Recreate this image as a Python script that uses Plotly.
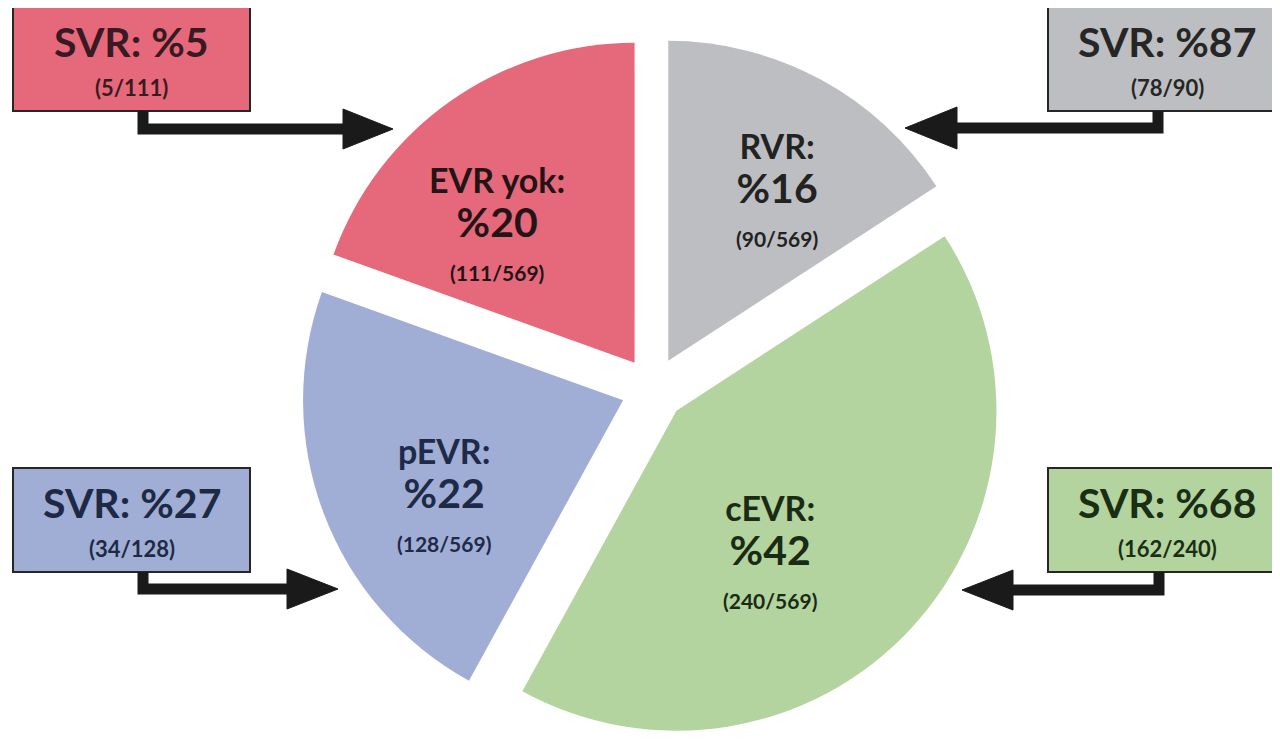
import math
import plotly.graph_objects as go

# ---------------- data ----------------
labels = ["RVR", "cEVR", "pEVR", "EVR yok"]
values = [90, 240, 128, 111]
svr_num = [78, 162, 34, 5]
svr_den = [90, 240, 128, 111]

# ---------------- style ----------------
slice_colors = ["#BDBEC1", "#B3D39F", "#A0AED6", "#E5697B"]
label_colors = ["#222222", "#1A2B14", "#1E2A48", "#241416"]
box_text_colors = ["#262626", "#1A2E14", "#1E2A45", "#3A1A22"]
label_rfrac = [0.738, 0.622, 0.731, 0.714]
label_shift = [3.2, 11.1, -5.7, -8.1]
# boxes in screen pixel space: (x0, y0, x1, y1)
boxes = [(1048, 7, 1300, 111), (1048, 468, 1300, 572), (13, 468, 250, 572), (13, 7, 250, 111)]
# arrows: (elbow x, start y, horizontal y, head base x, tip x, head half height)
arrows = [(1158, 111, 128, 957, 905, 21), (1159, 572, 590, 1013, 962, 20),
          (143, 572, 589, 287, 338, 20), (143, 111, 129, 343, 393, 20)]

OFF = 8                      # default page body margin
W, H = 1280 - 2 * OFF, 749 - 2 * OFF
FONT = "Lato"
pull = 0.10
R_PIE = 320                  # desired radius (screen px)
CX, CY = 653, 389            # desired pie centre (screen px)

half = R_PIE * (1 + pull)
cxf, cyf = CX - OFF, CY - OFF
dom_x = [(cxf - half) / W, (cxf + half) / W]
dom_y = [max(0.0, 1 - (cyf + half) / H), min(1.0, 1 - (cyf - half) / H)]

total = sum(values)
pct = [int(v / total * 100 + 0.5) for v in values]
svr_pct = [int(n / d * 100 + 0.5) for n, d in zip(svr_num, svr_den)]

fig = go.Figure()
fig.add_trace(go.Pie(
    labels=labels, values=values, sort=False, direction="clockwise", rotation=0,
    pull=[pull] * len(values), textinfo="none", hoverinfo="label+value+percent",
    marker=dict(colors=slice_colors, line=dict(width=0)),
    domain=dict(x=dom_x, y=dom_y), showlegend=False,
))

# pie geometry as plotly scales it (converted to screen px)
bw = W * (dom_x[1] - dom_x[0])
bh = H * (dom_y[1] - dom_y[0])
r = min(bw, bh) / (2 + 2 * pull)
cx = W * (dom_x[0] + dom_x[1]) / 2 + OFF
cy = H * (1 - dom_y[0]) - bh / 2 + OFF

annotations = []
shapes = []
cum = 0
for i, v in enumerate(values):
    mid = (cum + v / 2) / total * 360 + label_shift[i]
    cum += v
    rad = math.radians(mid)
    lx = cx + r * label_rfrac[i] * math.sin(rad)
    ly = cy - r * label_rfrac[i] * math.cos(rad)
    txt = (f"<b>{labels[i]}:</b><br><span style='font-size:41px'><b>%{pct[i]}</b></span>"
           f"<br><span style='font-size:21px'><b>({v}/{total})</b></span>")
    annotations.append(dict(x=lx, y=ly, xref="x", yref="y", text=txt, showarrow=False,
                            font=dict(family=FONT, size=34, color=label_colors[i]),
                            align="center", xanchor="center", yanchor="middle"))
    # SVR box
    x0, y0, x1, y1 = boxes[i]
    shapes.append(dict(type="rect", xref="x", yref="y", x0=x0, y0=y0, x1=x1, y1=y1,
                       fillcolor=slice_colors[i], line=dict(color="#262626", width=2), layer="above"))
    tx = (x0 + min(x1, 1288)) / 2 if x1 < 1280 else 1167
    annotations.append(dict(x=tx, y=y0 + 34, xref="x", yref="y", showarrow=False,
                            text=f"<b>SVR: %{svr_pct[i]}</b>",
                            font=dict(family=FONT, size=41, color=box_text_colors[i]),
                            xanchor="center", yanchor="middle"))
    annotations.append(dict(x=tx, y=y0 + 80, xref="x", yref="y", showarrow=False,
                            text=f"<b>({svr_num[i]}/{svr_den[i]})</b>",
                            font=dict(family=FONT, size=22, color=box_text_colors[i]),
                            xanchor="center", yanchor="middle"))
    # arrow
    ex, sy, hy, bx, tipx, hh = arrows[i]
    shapes.append(dict(type="path", xref="x", yref="y",
                       path=f"M {ex},{sy} L {ex},{hy} L {bx},{hy}",
                       line=dict(color="#1A1A1A", width=11), layer="above"))
    shapes.append(dict(type="path", xref="x", yref="y",
                       path=f"M {bx},{hy - hh} L {tipx},{hy} L {bx},{hy + hh} Z",
                       fillcolor="#1A1A1A", line=dict(color="#1A1A1A", width=1), layer="above"))

fig.update_layout(
    width=W, height=H, margin=dict(l=0, r=0, t=0, b=0),
    paper_bgcolor="white", plot_bgcolor="rgba(0,0,0,0)",
    xaxis=dict(range=[OFF, OFF + W], visible=False, fixedrange=True),
    yaxis=dict(range=[OFF + H, OFF], visible=False, fixedrange=True),
    annotations=annotations, shapes=shapes, showlegend=False,
)
fig.write_html("out.html")
